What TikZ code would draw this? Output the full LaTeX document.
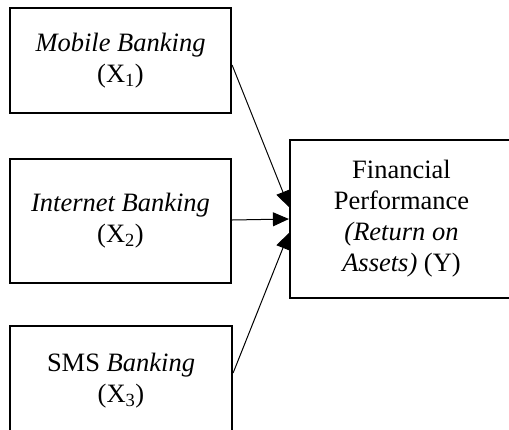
\documentclass[tikz,border=0pt]{standalone}
\usepackage{fontspec}
\setmainfont{Liberation Serif}
\usetikzlibrary{arrows.meta}
\begin{document}
\begin{tikzpicture}[x=1pt,y=-1pt,
  box/.style={draw,line width=2.2pt,align=center,inner sep=0pt,font=\fontsize{26.5}{31}\selectfont},
  link/.style={line width=1pt,-{Triangle[length=16pt,width=14pt]}}]
\useasboundingbox (0,0) rectangle (509,429);
\clip (0,0) rectangle (509,429);
\node[box,minimum width=221pt,minimum height=105pt] (b1) at (120.5,60.5)
  {\textit{Mobile Banking}\\(X\textsubscript{1})};
\node[box,minimum width=221pt,minimum height=124pt] (b2) at (120.5,221)
  {\textit{Internet Banking}\\(X\textsubscript{2})};
\node[box,minimum width=222pt,minimum height=110pt] (b3) at (121,381)
  {SMS \textit{Banking}\\(X\textsubscript{3})};
\node[box,minimum width=223pt,minimum height=158pt] (y) at (401.5,219)
  {Financial\\Performance\\\textit{(Return on}\\\textit{Assets)} (Y)};
\draw[link] ([yshift=-4.5pt]b1.east) -- ([yshift=12pt]y.west);
\draw[link] ([yshift=1pt]b2.east) -- (y.west);
\draw[link] ([yshift=8pt]b3.east) -- ([yshift=-14pt]y.west);
\end{tikzpicture}
\end{document}
